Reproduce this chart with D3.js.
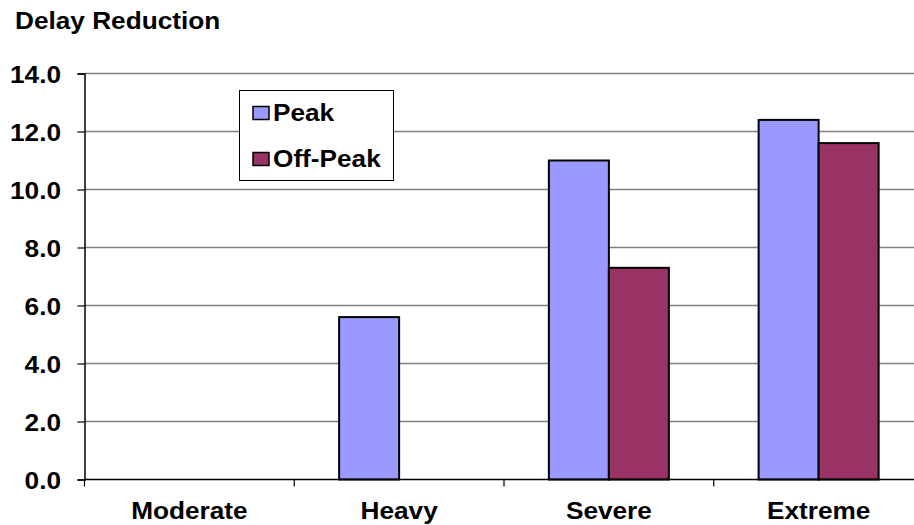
<!DOCTYPE html>
<html>
<head>
<meta charset="utf-8">
<script src="https://cdn.jsdelivr.net/npm/d3@7"></script>
<style>
  html, body { margin: 0; padding: 0; background: #fff; }
  svg text { font-family: "Liberation Sans", Arial, sans-serif; font-weight: bold; fill: #000; }
</style>
</head>
<body>
<svg id="chart" width="914" height="525"></svg>
<script>
const categories = ["Moderate", "Heavy", "Severe", "Extreme"];
const seriesNames = ["Peak", "Off-Peak"];
const peakValues = [0, 5.6, 11.0, 12.4];
const offPeakValues = [0, 0, 7.3, 11.6];
const yTicks = [0, 2, 4, 6, 8, 10, 12, 14];
const yTickLabels = ["0.0", "2.0", "4.0", "6.0", "8.0", "10.0", "12.0", "14.0"];
const title = "Delay Reduction";
const colors = ["#9999FF", "#993366"];

const svg = d3.select("#chart");
const FS = 24.5, SX = 1.07;
const pLeft = 84.5, pRight = 923.5, pTop = 73.5, pBottom = 479.5;

const x = d3.scaleBand().domain(categories).range([pLeft, pRight]).padding(0);
const y = d3.scaleLinear().domain([0, 14]).range([pBottom, pTop]);
const barW = 60;

function txt(g, tx, ty, s, anchor) {
  return g.append("text")
    .attr("transform", `translate(${tx},${ty}) scale(${SX},1)`)
    .attr("text-anchor", anchor || "start")
    .attr("font-size", FS)
    .text(s);
}

// title
txt(svg, 15, 28.5, title, "start");

// gridlines
svg.append("g").selectAll("line").data(yTicks.filter(d => d > 0)).join("line")
  .attr("x1", pLeft).attr("x2", pRight)
  .attr("y1", d => y(d)).attr("y2", d => y(d))
  .attr("stroke", "#808080").attr("stroke-width", 1.5);

// y axis
const yAxis = svg.append("g").attr("transform", `translate(${pLeft},0)`)
  .call(d3.axisLeft(y).tickValues(yTicks).tickFormat((d, i) => yTickLabels[i]).tickSizeOuter(0).tickSize(7).tickPadding(0));
yAxis.select(".domain").attr("stroke", "#000").attr("stroke-width", 1.5);
yAxis.selectAll(".tick line").attr("stroke", "#000").attr("stroke-width", 1.2);
yAxis.selectAll(".tick text").remove();
yAxis.selectAll(".tick").each(function(d, i) {
  txt(d3.select(this), -23.5, 8.5, yTickLabels[i], "end");
});

// bars
const groups = categories.map((c, i) => ({c, vals: [peakValues[i], offPeakValues[i]]}));
const gBars = svg.append("g");
groups.forEach(g => {
  const cx = x(g.c) + x.bandwidth() / 2;
  g.vals.forEach((v, j) => {
    if (v <= 0) return;
    gBars.append("rect")
      .attr("x", cx - barW + j * barW)
      .attr("y", y(v))
      .attr("width", barW)
      .attr("height", y(0) - y(v))
      .attr("fill", colors[j])
      .attr("stroke", "#000")
      .attr("stroke-width", 2);
  });
});

// x axis
const xAxis = svg.append("g").attr("transform", `translate(0,${pBottom})`);
xAxis.append("line").attr("x1", pLeft).attr("x2", pRight).attr("y1", 0).attr("y2", 0)
  .attr("stroke", "#000").attr("stroke-width", 1.5);
const bounds = categories.map(c => x(c)).concat([pRight]);
xAxis.selectAll("line.tk").data(bounds).join("line").attr("class", "tk")
  .attr("x1", d => d).attr("x2", d => d).attr("y1", 0).attr("y2", 7)
  .attr("stroke", "#000").attr("stroke-width", 1.2);
categories.forEach(c => {
  txt(xAxis, x(c) + x.bandwidth() / 2, 39.5, c, "middle");
});

// legend
const lg = svg.append("g");
lg.append("rect").attr("x", 239.5).attr("y", 90.5).attr("width", 154).attr("height", 90)
  .attr("fill", "#fff").attr("stroke", "#000").attr("stroke-width", 1);
seriesNames.forEach((s, i) => {
  const cy = 113 + i * 46;
  lg.append("rect").attr("x", 253).attr("y", cy - 6.5).attr("width", 16).attr("height", 13)
    .attr("fill", colors[i]).attr("stroke", "#000").attr("stroke-width", 1.5);
  txt(lg, 273, cy + 7.5, s, "start");
});
</script>
</body>
</html>
